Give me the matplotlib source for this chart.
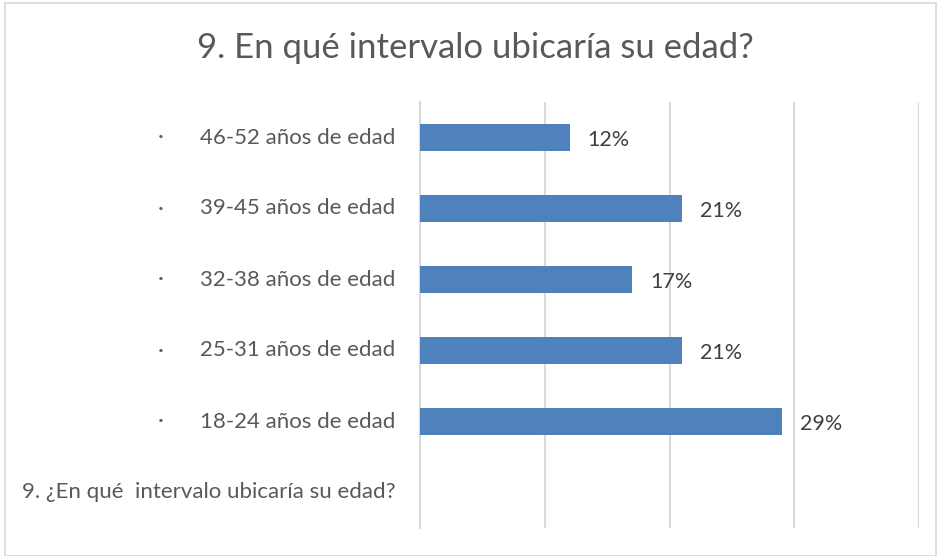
# plot.py
# Age interval bar chart (survey question 9)

import matplotlib
matplotlib.use("Agg")
import matplotlib.pyplot as plt
from matplotlib.patches import Rectangle
import numpy as np

categories = [
    "9. ¿En qué  intervalo ubicaría su edad?",
    "18-24 años de edad",
    "25-31 años de edad",
    "32-38 años de edad",
    "39-45 años de edad",
    "46-52 años de edad",
]
values = [np.nan, 29, 21, 17, 21, 12]
bullets = [False, True, True, True, True, True]
x_ticks = [0, 10, 20, 30, 40]

BAR = "#4F81BD"
GRID = "#D9D9D9"
LABEL = "#595959"
VALUE = "#404040"

plt.rcParams["font.family"] = ["Lato", "DejaVu Sans"]

W, H = 940, 556
fig = plt.figure(figsize=(W / 100, H / 100), dpi=100, facecolor="white")

# outer chart border
fig.add_artist(Rectangle((5 / W, 0.0), 931 / W, 1 - 3 / H,
                         transform=fig.transFigure, fill=False,
                         edgecolor=GRID, linewidth=1.2))

ax = fig.add_axes([420 / W, 1 - 528 / H, 499 / W, 426 / H])
y = np.arange(len(categories))
ax.barh(y, values, height=0.37, color=BAR, zorder=3)

ax.set_xlim(0, 40)
ax.set_ylim(-0.5, len(categories) - 0.5)
ax.set_xticks(x_ticks)
ax.xaxis.grid(True, color=GRID, linewidth=1.5, zorder=0)
ax.tick_params(axis="x", length=0, labelbottom=False)
ax.tick_params(axis="y", length=0, labelleft=False)
for name, spine in ax.spines.items():
    spine.set_visible(name == "left")
ax.spines["left"].set_color(GRID)
ax.spines["left"].set_linewidth(1.5)

# category labels + bullets
for yi, cat, bul in zip(y, categories, bullets):
    ax.annotate(cat, (0, yi), xytext=(-17.5, 0), textcoords="offset points",
                ha="right", va="center", fontsize=16, color=LABEL,
                xycoords=("axes fraction", "data"))
    if bul:
        ax.annotate("·", (0, yi), xytext=(-187, 0), textcoords="offset points",
                    ha="center", va="center", fontsize=16, color=LABEL,
                    xycoords=("axes fraction", "data"))

# value labels
for yi, v in zip(y, values):
    if np.isnan(v):
        continue
    ax.annotate(f"{v:.0f}%", (v, yi), xytext=(13, -2), textcoords="offset points",
                ha="left", va="center", fontsize=15.5, color=VALUE)

fig.text(475 / W, 1 - 48 / H, "9. En qué intervalo ubicaría su edad?",
         ha="center", va="center", fontsize=25, color=LABEL)

fig.savefig("out.png", dpi=100, facecolor="white")
